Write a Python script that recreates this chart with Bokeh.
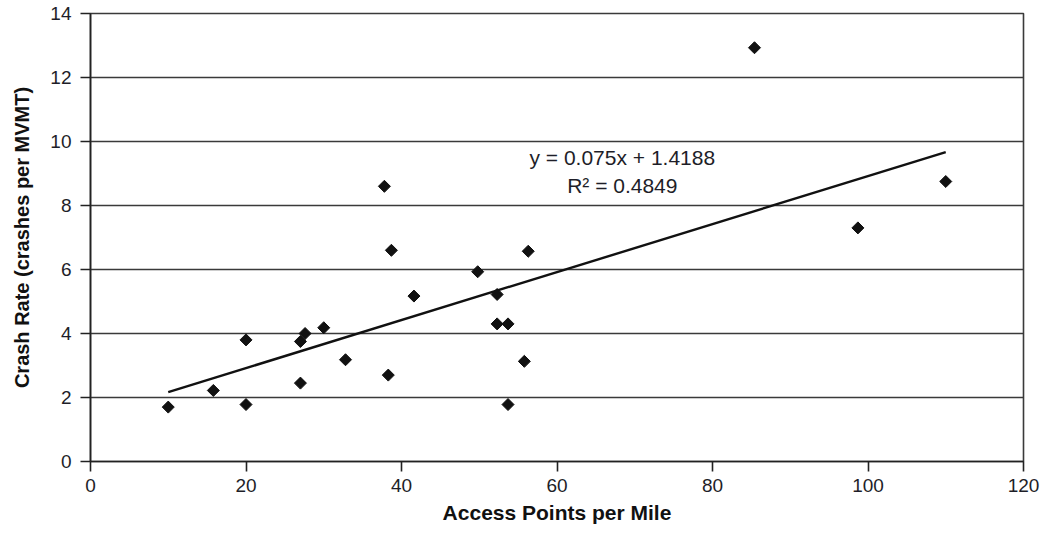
import math
from bokeh.plotting import figure
from bokeh.models import ColumnDataSource, Label, FixedTicker, Range1d
from bokeh.embed import file_html
from bokeh.resources import INLINE

# Data
access_points = [10.0, 15.8, 20.0, 20.0, 27.0, 27.0, 27.6, 30.0, 32.8, 37.8, 38.7,
                 38.3, 41.6, 49.8, 52.3, 52.3, 53.7, 53.7, 55.8, 56.3, 85.4, 98.7, 110.0]
crash_rate = [1.70, 2.22, 3.80, 1.78, 3.75, 2.45, 4.00, 4.18, 3.18, 8.60, 6.60,
              2.70, 5.17, 5.93, 5.22, 4.30, 4.30, 1.78, 3.13, 6.57, 12.93, 7.30, 8.75]

slope = 0.075
intercept = 1.4188
r_squared = 0.4849
trend_x = [10.0, 110.0]
trend_y = [slope * v + intercept for v in trend_x]

x_ticks = [0, 20, 40, 60, 80, 100, 120]
y_ticks = [0, 2, 4, 6, 8, 10, 12, 14]

FONT = "Liberation Sans"

p = figure(width=1046, height=530, output_backend="svg", toolbar_location=None,
           x_range=Range1d(0, 120), y_range=Range1d(0, 14),
           min_border_left=90, min_border_top=13, min_border_right=23, min_border_bottom=69)
p.background_fill_color = "white"
p.border_fill_color = "white"
p.outline_line_color = "#3a3a3a"
p.outline_line_width = 1.6

p.xgrid.grid_line_color = None
p.ygrid.grid_line_color = "#3a3a3a"
p.ygrid.grid_line_width = 1.6

p.xaxis.ticker = FixedTicker(ticks=x_ticks)
p.yaxis.ticker = FixedTicker(ticks=y_ticks)
for ax in (p.xaxis, p.yaxis):
    ax.axis_line_color = "#222222"
    ax.axis_line_width = 1.6
    ax.major_tick_line_color = "#222222"
    ax.major_tick_line_width = 1.6
    ax.major_tick_out = 10
    ax.major_tick_in = 0
    ax.minor_tick_line_color = None
    ax.major_label_text_font = FONT
    ax.major_label_text_font_size = "19px"
    ax.major_label_text_color = "#1e1e28"
    ax.axis_label_text_font = FONT
    ax.axis_label_text_font_style = "bold"
    ax.axis_label_text_color = "#111111"

p.xaxis.axis_label_text_font_size = "21px"
p.yaxis.axis_label_text_font_size = "20px"
p.xaxis.axis_label = "Access Points per Mile"
p.yaxis.axis_label = "Crash Rate (crashes per MVMT)"
p.xaxis.major_label_standoff = 7
p.yaxis.major_label_standoff = 9
p.xaxis.axis_label_standoff = 6
p.yaxis.axis_label_standoff = 14

src = ColumnDataSource(dict(x=access_points, y=crash_rate))
p.line(trend_x, trend_y, line_color="#111111", line_width=2.4)
p.scatter("x", "y", source=src, marker="square", size=8.5, angle=math.pi / 4,
          fill_color="#111111", line_color="#111111")

eq1 = Label(x=68.4, y=9.51, text=f"y = {slope}x + {intercept}",
            text_align="center", text_baseline="middle",
            text_font=FONT, text_font_size="21px", text_color="#1e1e28")
eq2 = Label(x=68.4, y=8.63, text=f"R² = {r_squared}",
            text_align="center", text_baseline="middle",
            text_font=FONT, text_font_size="21px", text_color="#1e1e28")
p.add_layout(eq1)
p.add_layout(eq2)

open("out.html", "w").write(file_html(p, INLINE))
